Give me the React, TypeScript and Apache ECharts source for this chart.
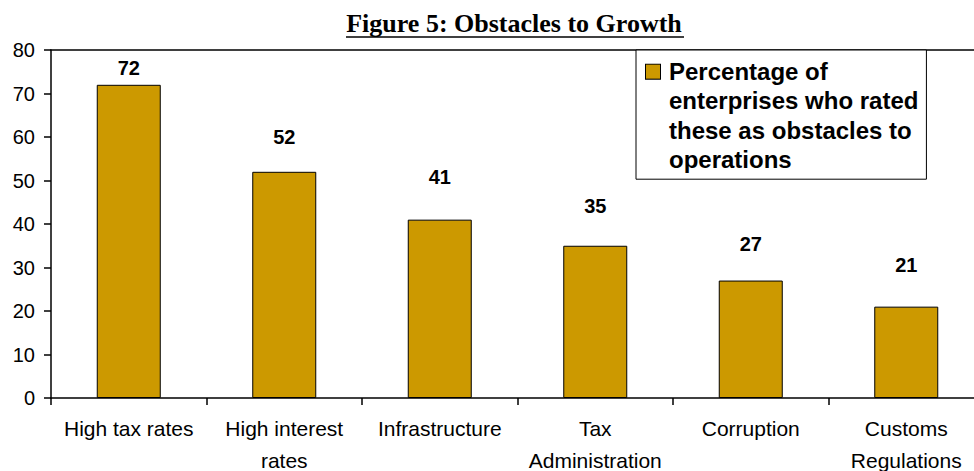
import React, { useEffect, useRef } from 'react';
import * as echarts from 'echarts';

const categories = [
  'High tax rates',
  'High interest\nrates',
  'Infrastructure',
  'Tax\nAdministration',
  'Corruption',
  'Customs\nRegulations',
];
const values = [72, 52, 41, 35, 27, 21];
const yMin = 0;
const yMax = 80;
const yInterval = 10;
const seriesName = 'Percentage of enterprises who rated these as obstacles to operations';
const legendLines = ['Percentage of', 'enterprises who rated', 'these as obstacles to', 'operations'];
const titleText = 'Figure 5: Obstacles to Growth';
const labelDistances = [7, 25, 33, 30, 27, 32];

const SANS = '"Liberation Sans", Arial, sans-serif';
const SERIF = '"Liberation Serif", "Times New Roman", serif';
const BAR = '#CC9900';

export default function App() {
  const ref = useRef<HTMLDivElement>(null);
  useEffect(() => {
    if (!ref.current) return;
    const chart = echarts.init(ref.current, undefined, { renderer: 'svg' });
    const option: any = {
      animation: false,
      backgroundColor: '#ffffff',
      graphic: [
        {
          type: 'text',
          x: 514,
          y: 10,
          style: {
            text: titleText,
            font: `bold 26px ${SERIF}`,
            fill: '#000',
            textAlign: 'center',
            textVerticalAlign: 'top',
          },
        },
        {
          type: 'line',
          shape: { x1: 346, y1: 37, x2: 684, y2: 37 },
          style: { stroke: '#000', lineWidth: 1.5 },
        },
      ],
      grid: { left: 51, top: 50, right: -10, bottom: 73, containLabel: false, outerBoundsMode: 'none' },
      legend: {
        show: true,
        left: 636,
        top: 50,
        orient: 'vertical',
        icon: 'none',
        itemWidth: 0,
        itemHeight: 14,
        padding: [7, 8, 5, 5],
        backgroundColor: '#fff',
        borderColor: '#000',
        borderWidth: 1,
        borderRadius: 0,
        selectedMode: false,
        data: [seriesName],
        formatter: () =>
          legendLines
            .map((l, i) => (i === 0 ? '{sq|}{gap|}' : '{ind|}') + '{t|' + l + '}')
            .join('\n'),
        textStyle: {
          fontFamily: SANS,
          fontSize: 24,
          fontWeight: 'bold',
          color: '#000',
          lineHeight: 29.3,
          rich: {
            sq: {
              width: 14,
              height: 14,
              backgroundColor: BAR,
              borderColor: '#000',
              borderWidth: 1,
            },
            gap: { width: 9 },
            ind: { width: 23 },
            t: {
              fontFamily: SANS,
              fontSize: 24,
              fontWeight: 'bold',
              color: '#000',
              lineHeight: 29.3,
            },
          },
        },
      },
      xAxis: [
        {
          type: 'category',
          data: categories,
          boundaryGap: true,
          axisLine: { show: true, lineStyle: { color: '#000', width: 1.5 } },
          axisTick: { show: true, inside: false, length: 7, alignWithLabel: false, lineStyle: { color: '#000', width: 1.5 } },
          axisLabel: {
            interval: 0,
            margin: 14,
            color: '#000',
            fontFamily: SANS,
            fontSize: 21,
            lineHeight: 32,
          },
          splitLine: { show: false },
        },
        {
          type: 'category',
          data: categories,
          position: 'top',
          axisLine: { show: true, lineStyle: { color: '#000', width: 1.5 } },
          axisTick: { show: false },
          axisLabel: { show: false },
          splitLine: { show: false },
        },
      ],
      yAxis: {
        type: 'value',
        min: yMin,
        max: yMax,
        interval: yInterval,
        axisLine: { show: true, lineStyle: { color: '#000', width: 1.5 } },
        axisTick: { show: true, inside: false, length: 7, lineStyle: { color: '#000', width: 1.5 } },
        axisLabel: {
          margin: 16,
          color: '#000',
          fontFamily: SANS,
          fontSize: 20,
        },
        splitLine: { show: false },
      },
      series: [
        {
          name: seriesName,
          type: 'bar',
          xAxisIndex: 0,
          barWidth: 64,
          itemStyle: { color: BAR, borderColor: '#000', borderWidth: 1 },
          label: {
            show: true,
            position: 'top',
            color: '#000',
            fontFamily: SANS,
            fontSize: 20,
            fontWeight: 'bold',
          },
          data: values.map((v, i) => ({ value: v, label: { distance: labelDistances[i] } })),
        },
      ],
    };
    chart.setOption(option);
    return () => chart.dispose();
  }, []);
  return (
    <div
      ref={ref}
      style={{ position: 'absolute', left: 0, top: 0, width: 974, height: 471 }}
    />
  );
}
